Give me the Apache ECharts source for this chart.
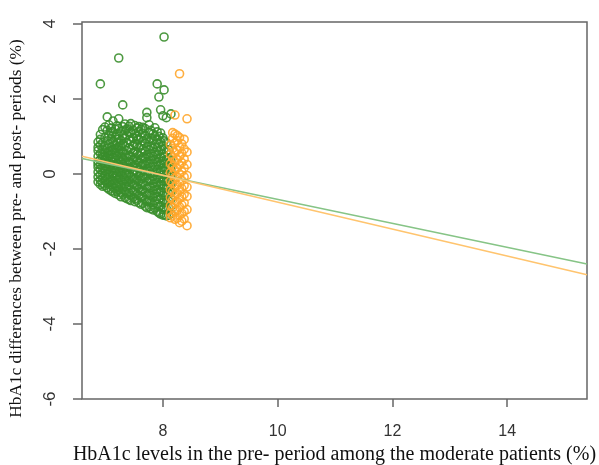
<!DOCTYPE html>
<html lang="en">
<head>
    <meta charset="UTF-8">
    <title>HbA1c scatter</title>
    <script src="https://cdn.jsdelivr.net/npm/echarts@6/dist/echarts.min.js"></script>
    <style>
        html, body { margin: 0; padding: 0; background: #fff; }
        #main { width: 599px; height: 465px; }
    </style>
</head>
<body>
    <div id="main"></div>
    <script>
        // pre-period HbA1c of each column of points, and the differences read in that column
        var greenX = [6.87, 6.91, 6.95, 6.99, 7.03, 7.06, 7.10, 7.13, 7.17, 7.20, 7.23, 7.27, 7.30,
                      7.34, 7.37, 7.41, 7.44, 7.48, 7.51, 7.55, 7.58, 7.62, 7.65, 7.69, 7.72, 7.76,
                      7.79, 7.83, 7.86, 7.90, 7.93, 7.96, 8.00, 8.02, 8.06, 8.10, 8.14];
        var greenY = [
            [0.85, 0.62, 0.47, 0.33, 0.18, 0.05, -0.08, -0.21, 0.71, 0.26],
            [2.4, 1.05, 0.92, 0.55, 0.38, 0.12, -0.03, -0.17, -0.28, 0.77, 0.24],
            [1.18, 0.66, 0.51, 0.29, 0.15, 0.02, -0.12, -0.25, 0.83, 0.43, -0.33],
            [1.25, 0.97, 0.74, 0.58, 0.36, 0.21, 0.08, -0.06, -0.19, -0.31, 0.47],
            [1.52, 1.16, 0.88, 0.69, 0.44, 0.27, 0.11, -0.02, -0.15, -0.37, 0.56, -0.26],
            [1.31, 1.02, 0.79, 0.61, 0.34, 0.19, 0.04, -0.09, -0.23, -0.41, 0.49],
            [1.22, 0.94, 0.71, 0.53, 0.39, 0.23, 0.07, -0.14, -0.29, -0.45, 0.62, 1.08],
            [1.41, 1.12, 0.86, 0.64, 0.45, 0.31, 0.16, -0.05, -0.18, -0.36, -0.48, 0.01],
            [1.19, 0.99, 0.77, 0.57, 0.42, 0.24, 0.09, -0.07, -0.24, -0.39, -0.52, 0.68],
            [1.28, 1.06, 0.83, 0.66, 0.48, 0.29, 0.13, -0.03, -0.16, -0.33, -0.47, 0.92],
            [3.09, 1.47, 0.93, 0.72, 0.55, 0.37, 0.21, 0.05, -0.11, -0.27, -0.43, -0.56, 1.21],
            [1.14, 0.89, 0.63, 0.46, 0.32, 0.17, 0.02, -0.15, -0.31, -0.49, -0.61, 0.75],
            [1.84, 1.26, 1.01, 0.81, 0.58, 0.41, 0.26, 0.1, -0.06, -0.22, -0.38, -0.54],
            [1.33, 0.96, 0.73, 0.52, 0.35, 0.19, 0.03, -0.13, -0.28, -0.46, -0.63, 1.15],
            [1.2, 1.03, 0.84, 0.62, 0.44, 0.27, 0.12, -0.04, -0.2, -0.35, -0.52, -0.66],
            [1.27, 0.91, 0.69, 0.5, 0.33, 0.16, -0.01, -0.17, -0.32, -0.5, -0.68, 1.09],
            [1.34, 1.11, 0.87, 0.65, 0.47, 0.3, 0.14, -0.08, -0.24, -0.41, -0.57, -0.71],
            [1.17, 0.95, 0.76, 0.56, 0.38, 0.21, 0.06, -0.1, -0.27, -0.45, -0.62, 0.97],
            [1.29, 1.07, 0.8, 0.6, 0.43, 0.25, 0.09, -0.14, -0.3, -0.48, -0.66, -0.74],
            [1.22, 1.0, 0.78, 0.54, 0.36, 0.18, 0.01, -0.16, -0.34, -0.53, -0.7, 0.91],
            [1.13, 0.93, 0.7, 0.49, 0.31, 0.13, -0.05, -0.21, -0.39, -0.57, -0.77, 1.26],
            [1.19, 0.98, 0.75, 0.57, 0.4, 0.22, 0.04, -0.12, -0.29, -0.46, -0.63, -0.81],
            [1.08, 0.88, 0.66, 0.45, 0.27, 0.1, -0.08, -0.25, -0.43, -0.6, -0.78, 1.24],
            [1.21, 1.02, 0.82, 0.61, 0.42, 0.24, 0.07, -0.11, -0.31, -0.5, -0.69, -0.86],
            [1.5, 1.64, 0.94, 0.72, 0.51, 0.33, 0.15, -0.04, -0.2, -0.38, -0.56, -0.74, -0.9],
            [1.31, 1.1, 0.86, 0.64, 0.46, 0.28, 0.08, -0.15, -0.33, -0.52, -0.71, -0.88],
            [1.16, 0.95, 0.73, 0.55, 0.37, 0.19, 0.0, -0.18, -0.37, -0.58, -0.76, -0.93],
            [1.07, 0.9, 0.68, 0.47, 0.29, 0.11, -0.07, -0.26, -0.44, -0.62, -0.82, -0.96],
            [1.23, 1.01, 0.79, 0.58, 0.39, 0.2, 0.03, -0.14, -0.34, -0.53, -0.72, -0.91],
            [2.4, 1.12, 0.92, 0.7, 0.52, 0.32, 0.12, -0.06, -0.23, -0.41, -0.6, -0.8, -1.0],
            [2.05, 1.0, 0.81, 0.6, 0.41, 0.23, 0.05, -0.13, -0.31, -0.49, -0.68, -0.87, -1.04],
            [1.71, 1.09, 0.85, 0.63, 0.44, 0.26, 0.09, -0.1, -0.28, -0.46, -0.64, -0.84, -1.07],
            [1.55, 0.96, 0.74, 0.53, 0.34, 0.16, -0.02, -0.2, -0.38, -0.57, -0.77, -0.95, -1.1],
            [3.65, 2.24, 0.88, 0.66, 0.45, 0.27, 0.08, -0.12, -0.3, -0.5, -0.7, -0.9, -1.08],
            [1.5, 0.83, 0.59, 0.38, 0.18, -0.01, -0.19, -0.37, -0.56, -0.75, -0.93, -1.12],
            [0.64, 0.41, 0.22, 0.03, -0.16, -0.35, -0.53, -0.72, -0.91, -1.1],
            [1.6, 0.35, 0.12, -0.08, -0.29, -0.48, -0.67, -0.86, -1.05]
        ];
        var orangeX = [8.13, 8.17, 8.21, 8.25, 8.29, 8.33, 8.37, 8.42];
        var orangeY = [
            [0.78, 0.52, 0.27, 0.04, -0.19, -0.42, -0.63, -0.85, -1.04, -1.17],
            [1.1, 0.95, 0.68, 0.43, 0.2, -0.03, -0.25, -0.47, -0.69, -0.9, -1.12],
            [1.57, 1.06, 0.82, 0.57, 0.33, 0.1, -0.12, -0.34, -0.56, -0.78, -0.99, -1.21],
            [1.02, 0.89, 0.63, 0.38, 0.15, -0.08, -0.3, -0.52, -0.74, -0.96, -1.18],
            [2.67, 0.97, 0.71, 0.47, 0.24, 0.0, -0.22, -0.44, -0.66, -0.88, -1.1, -1.3],
            [0.8, 0.55, 0.3, 0.06, -0.17, -0.39, -0.61, -0.83, -1.05, -1.26],
            [0.92, 0.66, 0.4, 0.16, -0.08, -0.31, -0.54, -0.77, -1.0, -1.2],
            [1.47, 0.58, 0.25, -0.04, -0.35, -0.6, -0.95, -1.38]
        ];
        // fitted lines, end points read at the plot edges
        var fitX = [6.59, 15.39];
        var greenFitY = [0.41, -2.40];
        var orangeFitY = [0.47, -2.69];
        var xTicks = [8, 10, 12, 14];
        var yTicks = [-6, -4, -2, 0, 2, 4];

        function toPoints(xs, ys) {
            var out = [];
            xs.forEach(function (x, i) {
                ys[i].forEach(function (y) { out.push([x, y]); });
            });
            return out;
        }

        var chart = echarts.init(document.getElementById('main'));
        var tickFont = 'Liberation Sans, Arial, sans-serif';
        var nameFont = 'Liberation Serif, Times New Roman, serif';

        var option = {
            animation: false,
            backgroundColor: '#fff',
            grid: {
                left: 82, right: 12, top: 22, bottom: 66,
                outerBoundsMode: 'none',
                show: true, borderColor: '#666', borderWidth: 1.5
            },
            xAxis: {
                type: 'value',
                min: fitX[0], max: fitX[1],
                splitLine: { show: false },
                axisLine: { show: false, onZero: false },
                axisTick: { show: true, length: 8, customValues: xTicks, lineStyle: { color: '#666', width: 1.5 } },
                axisLabel: { margin: 25, customValues: xTicks, fontFamily: tickFont, fontSize: 16, color: '#333' },
                name: 'HbA1c levels in the pre- period among the moderate patients (%)',
                nameLocation: 'middle',
                nameGap: 44,
                nameTextStyle: { fontFamily: nameFont, fontSize: 20, color: '#111' }
            },
            yAxis: {
                type: 'value',
                min: -6, max: 4.05,
                splitLine: { show: false },
                axisLine: { show: false, onZero: false },
                axisTick: { show: true, length: 9, customValues: yTicks, lineStyle: { color: '#666', width: 1.5 } },
                axisLabel: { margin: 23, rotate: 90, customValues: yTicks, fontFamily: tickFont, fontSize: 17, color: '#333' },
                name: 'HbA1c differences between pre- and post- periods (%)',
                nameLocation: 'middle',
                nameGap: 57,
                nameTextStyle: { fontFamily: nameFont, fontSize: 17.3, color: '#111', padding: [0, 36, 0, 0] }
            },
            series: [
                {
                    type: 'scatter',
                    data: toPoints(greenX, greenY),
                    symbol: 'circle',
                    symbolSize: 8,
                    itemStyle: { color: 'transparent', borderColor: '#3a8e2c', borderWidth: 1.6, opacity: 0.9 }
                },
                {
                    type: 'scatter',
                    data: toPoints(orangeX, orangeY),
                    symbol: 'circle',
                    symbolSize: 8,
                    itemStyle: { color: 'transparent', borderColor: '#ffa62b', borderWidth: 1.6, opacity: 0.9 }
                },
                {
                    type: 'line',
                    data: [[fitX[0], greenFitY[0]], [fitX[1], greenFitY[1]]],
                    symbol: 'none',
                    lineStyle: { color: '#86c486', width: 1.5 }
                },
                {
                    type: 'line',
                    data: [[fitX[0], orangeFitY[0]], [fitX[1], orangeFitY[1]]],
                    symbol: 'none',
                    lineStyle: { color: '#ffc46e', width: 1.5 }
                }
            ]
        };
        chart.setOption(option);
    </script>
</body>
</html>
